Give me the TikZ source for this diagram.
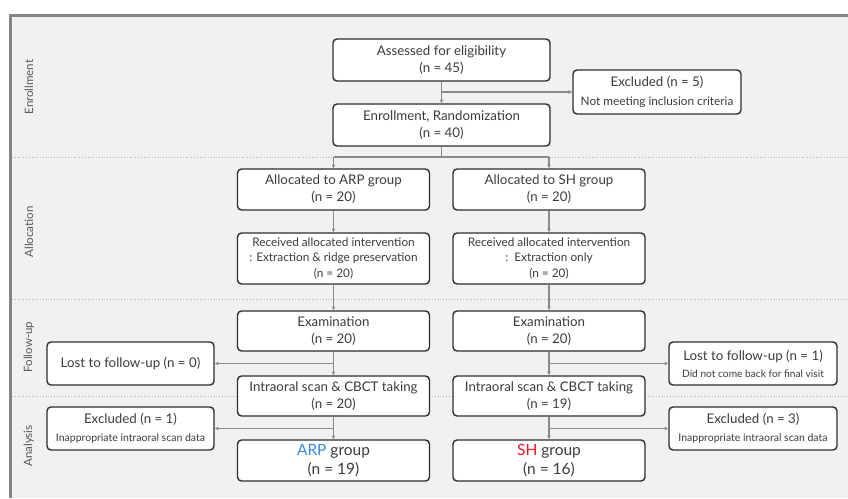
\documentclass[tikz,border=0pt]{standalone}
\usepackage{fontspec}
\setmainfont{Lato}
\usetikzlibrary{arrows.meta}
\definecolor{txt}{HTML}{3C3C3C}
\definecolor{boxc}{HTML}{2E2E2E}
\definecolor{linec}{HTML}{8A8A8A}
\definecolor{bgc}{HTML}{F1F1F1}
\definecolor{framec}{HTML}{858585}
\definecolor{sepc}{HTML}{B0B0B0}
\definecolor{arpc}{HTML}{3A8DDB}
\definecolor{shc}{HTML}{E8161E}
\newcommand{\smalltxt}{\fontsize{10.5}{12}\selectfont}
\newcommand{\midtxt}{\fontsize{11.8}{15.5}\selectfont}
\begin{document}
\begin{tikzpicture}[x=1pt,y=-1pt,
  box/.style={draw=boxc, line width=1.4pt, rounded corners=4pt, fill=white, text=txt,
    align=center, inner sep=0pt, font=\fontsize{13.3}{17}\selectfont},
  mainbox/.style={box, minimum width=192pt, minimum height=41pt},
  sidebox/.style={box, minimum width=167pt, minimum height=43pt},
  conn/.style={draw=linec, line width=1.1pt},
  arr/.style={conn, -{Stealth[length=4pt,width=3.6pt]}},
  sep/.style={draw=sepc, line width=0.8pt, dotted},
  phase/.style={rotate=90, text=txt!85, font=\fontsize{11.5}{14}\selectfont}
]
\useasboundingbox (0,0) rectangle (848,498);
\fill[bgc] (10,15) rectangle (848,498);
\draw[framec, line width=3pt] (10,498) -- (10,15) -- (848,15);

% separators
\draw[sep] (12,157) -- (848,157);
\draw[sep] (12,299) -- (848,299);
\draw[sep] (12,396) -- (848,396);

% phase labels
\node[phase] (pEnr) at (29,87) {Enrollment};
\node[phase] (pAll) at (29,232) {Allocation};
\node[phase] (pFol) at (29,347) {Follow-up};
\node[phase] (pAna) at (29,446) {Analysis};

% enrollment
\node[box, minimum width=217pt, minimum height=42pt] (assess) at (441.5,60) {Assessed for eligibility\\(n = 45)};
\node[box, minimum width=217pt, minimum height=42pt] (enroll) at (441.5,125) {Enrollment, Randomization\\(n = 40)};
\node[box, minimum width=168pt, minimum height=44pt] (excl5) at (657,92) {Excluded (n = 5)\\[1.5pt]{\fontsize{11.8}{13}\selectfont Not meeting inclusion criteria}};

% allocation
\node[mainbox] (allocA) at (333.5,189.5) {Allocated to ARP group\\(n = 20)};
\node[mainbox] (allocS) at (549,189.5) {Allocated to SH group\\(n = 20)};
\node[mainbox, minimum height=51pt, font=\midtxt] (recvA) at (333.5,258.5) {Received allocated intervention\\: Extraction \& ridge preservation\\(n = 20)};
\node[mainbox, minimum height=51pt, font=\midtxt] (recvS) at (549,258.5) {Received allocated intervention\\:\ \ Extraction only\\(n = 20)};

% follow-up
\node[mainbox, minimum height=40pt] (examA) at (333.5,331) {Examination\\(n = 20)};
\node[mainbox, minimum height=40pt] (examS) at (549,331) {Examination\\(n = 20)};
\node[mainbox, minimum height=40pt] (intraA) at (333.5,396) {Intraoral scan \& CBCT taking\\(n = 20)};
\node[mainbox, minimum height=40pt] (intraS) at (549,396) {Intraoral scan \& CBCT taking\\(n = 19)};

% analysis
\node[mainbox, font=\fontsize{15.5}{18.5}\selectfont] (grpA) at (333.5,460.5) {{\color{arpc}ARP} group\\(n = 19)};
\node[mainbox, font=\fontsize{15.5}{18.5}\selectfont] (grpS) at (549,460.5) {{\color{shc}SH} group\\(n = 16)};

% side boxes
\node[sidebox] (lost0) at (130.5,363.5) {Lost to follow-up (n = 0)};
\node[sidebox] (excl1) at (130.5,428.5) {Excluded (n = 1)\\[1pt]{\smalltxt Inappropriate intraoral scan data}};
\node[sidebox, minimum width=168pt] (lost1) at (753,363.5) {Lost to follow-up (n = 1)\\[0pt]{\fontsize{10.2}{12}\selectfont Did not come back for final visit}};
\node[sidebox, minimum width=168pt] (excl3) at (753,428.5) {Excluded (n = 3)\\[1pt]{\smalltxt Inappropriate intraoral scan data}};

% connectors
\coordinate (jE) at (441.5,92);
\coordinate (jS) at (441.5,157);
\coordinate (jA) at (333.5,157);
\coordinate (jB) at (549,157);
\coordinate (jL0) at (333.5,363.5);
\coordinate (jE1) at (333.5,428.5);
\coordinate (jL1) at (549,363.5);
\coordinate (jE3) at (549,428.5);

\draw[arr] (assess.south) -- (enroll.north);
\draw[arr] (jE) -- (excl5.west);
\draw[conn] (enroll.south) -- (jS);
\draw[conn] (jA) -- (jB);
\draw[arr] (jA) -- (allocA.north);
\draw[arr] (jB) -- (allocS.north);
\draw[arr] (allocA) -- (recvA);
\draw[arr] (allocS) -- (recvS);
\draw[arr] (recvA) -- (examA);
\draw[arr] (recvS) -- (examS);
\draw[arr] (examA) -- (intraA);
\draw[arr] (examS) -- (intraS);
\draw[arr] (intraA) -- (grpA);
\draw[arr] (intraS) -- (grpS);
\draw[arr] (jL0) -- (lost0.east);
\draw[arr] (jE1) -- (excl1.east);
\draw[arr] (jL1) -- (lost1.west);
\draw[arr] (jE3) -- (excl3.west);
\end{tikzpicture}
\end{document}
